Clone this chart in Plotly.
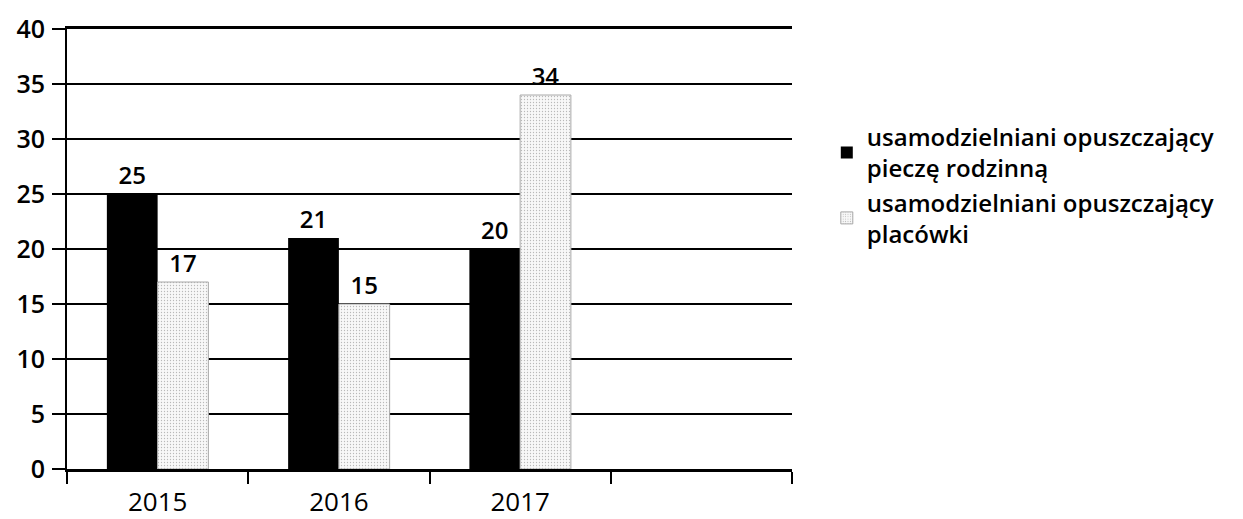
import plotly.graph_objects as go

categories = ["2015", "2016", "2017", " "]
series_names = ["usamodzielniani opuszczający<br>pieczę rodzinną",
                "usamodzielniani opuszczający<br>placówki"]
rodzinna = [25, 21, 20, None]
placowki = [17, 15, 34, None]
y_ticks = [0, 5, 10, 15, 20, 25, 30, 35, 40]

FONT = "'Open Sans', sans-serif"

fig = go.Figure()
fig.add_trace(go.Bar(
    x=categories, y=rodzinna, name=series_names[0],
    marker=dict(color="#000000", line=dict(color="#000000", width=0)),
    text=[str(v) if v is not None else "" for v in rodzinna],
    textposition="outside", cliponaxis=False,
    textfont=dict(family=FONT, size=24, color="#000000", weight=600),
))
fig.add_trace(go.Bar(
    x=categories, y=placowki, name=series_names[1],
    marker=dict(color="#ffffff",
                pattern=dict(shape=".", fgcolor="#7a7a7a", bgcolor="#f8f8f8",
                             size=3, solidity=0.15),
                line=dict(color="#a8a8a8", width=1)),
    text=[str(v) if v is not None else "" for v in placowki],
    textposition="outside", cliponaxis=False,
    textfont=dict(family=FONT, size=24, color="#000000", weight=600),
))

# figure slightly smaller than the window: the page body adds an 8px margin
fig.update_layout(
    width=1235, height=511,
    margin=dict(l=59, r=451, t=21, b=50),
    paper_bgcolor="#ffffff", plot_bgcolor="#ffffff",
    barmode="group", bargap=0.44, bargroupgap=0.0,
    font=dict(family=FONT, size=24, color="#000000"),
    legend=dict(x=1.048, y=0.805, xanchor="left", yanchor="top",
                font=dict(family=FONT, size=24, color="#000000", weight=600),
                itemwidth=30, bgcolor="rgba(0,0,0,0)"),
    showlegend=True,
)
fig.update_xaxes(
    type="category", categoryorder="array", categoryarray=categories,
    tickson="boundaries", ticks="outside", ticklen=12, tickwidth=2,
    tickcolor="#000000", showline=True, linecolor="#000000", linewidth=2.5,
    mirror=True, showgrid=False, automargin=False, ticklabelstandoff=8,
    tickfont=dict(family=FONT, size=26, color="#000000"),
)
fig.update_yaxes(
    range=[0, 40], tickvals=y_ticks, ticks="outside", ticklen=13,
    tickwidth=1.5, tickcolor="#000000",
    showline=True, linecolor="#000000", linewidth=2,
    showgrid=True, gridcolor="#000000", gridwidth=1.5,
    zeroline=False, automargin=False, ticklabelstandoff=2,
    tickfont=dict(family=FONT, size=25, color="#000000", weight=600),
)

fig.write_html("out.html")
